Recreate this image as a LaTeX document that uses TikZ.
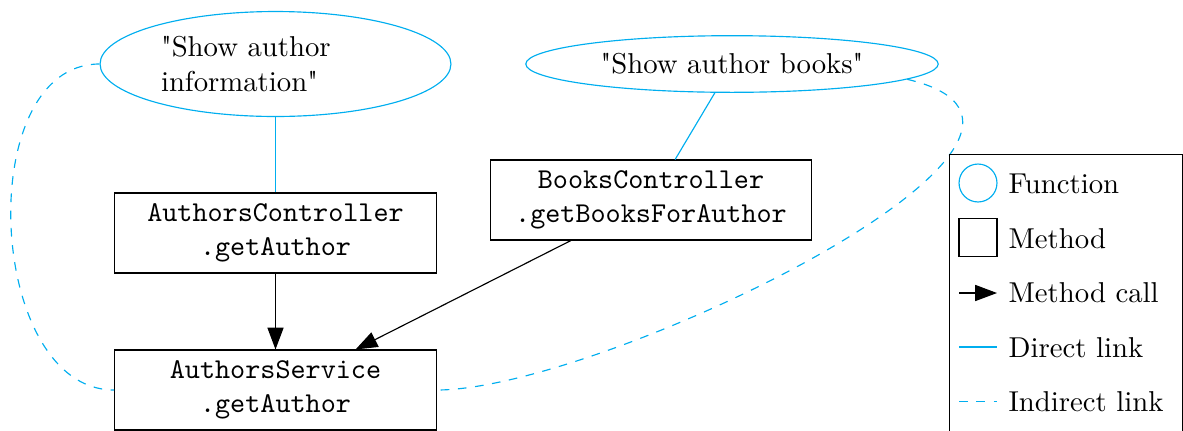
\documentclass[tikz,border=0pt]{standalone}
\usepackage{fontspec}
\usetikzlibrary{arrows.meta,shapes.geometric,calc}
\definecolor{linkblue}{RGB}{0,174,239}
\begin{document}
\begin{tikzpicture}[x=0.34794pt, y=-0.34794pt,
  function/.style={ellipse, draw=linkblue},
  method/.style={rectangle, draw, text width=3.7cm, align=center,
    font=\ttfamily, minimum height=27.8pt},
  call/.style={-{Triangle[length=7.6pt,width=5.6pt]}},
  direct/.style={draw=linkblue},
  indirect/.style={draw=linkblue, dashed},
  legendtext/.style={anchor=west, inner sep=0pt}]
\useasboundingbox (0,0) rectangle (1183,430);

% functions
\node[function, text width=2.8cm, align=left] (e1) at (275.5,64)
  {\textquotedbl{}Show author\\information\textquotedbl{}};
\node[function, inner xsep=5pt] (e2) at (732,64) {\textquotedbl{}Show author books\textquotedbl{}};

% methods
\node[method] (ac) at (275.5,233) {AuthorsController\\.getAuthor};
\node[method] (bc) at (651,200) {BooksController\\.getBooksForAuthor};
\node[method] (as) at (275.5,390) {AuthorsService\\.getAuthor};

% direct links
\draw[direct] (e1) -- (ac);
\draw[direct] (e2) -- (bc);

% method calls
\draw[call] (ac) -- (as);
\draw[call] (bc) -- (as);

% indirect links
\draw[indirect] (e1.west) to[out=180,in=180] (as.west);
\draw[indirect] (e2.-5) .. controls ($(e2.-5)+(227,53)$) and ($(as.east)+(165,0)$) .. (as.east);

% legend
\node[draw, anchor=north west, inner sep=0pt, minimum width=81.07pt,
  minimum height=100pt] (legend) at (948.5,153.5) {};
\node[circle, draw=linkblue, minimum size=13.2pt, inner sep=0pt] (lfun) at (978,183) {};
\node[draw, minimum size=13.2pt, inner sep=0pt] (lmeth) at (978,237.5) {};
\coordinate (lcallA) at (959,293);
\coordinate (lcallB) at (997,293);
\draw[call] (lcallA) -- (lcallB);
\coordinate (ldirA) at (959,347);
\coordinate (ldirB) at (997,347);
\draw[direct] (ldirA) -- (ldirB);
\coordinate (lindA) at (959,401.5);
\coordinate (lindB) at (997,401.5);
\draw[indirect] (lindA) -- (lindB);

\node[legendtext] (tfun) at (1008,184) {Function};
\node[legendtext] (tmeth) at (1008,238.5) {Method};
\node[legendtext] (tcall) at (1008,293) {Method call};
\node[legendtext] (tdir) at (1008,347.5) {Direct link};
\node[legendtext] (tind) at (1008,402) {Indirect link};
\end{tikzpicture}
\end{document}
